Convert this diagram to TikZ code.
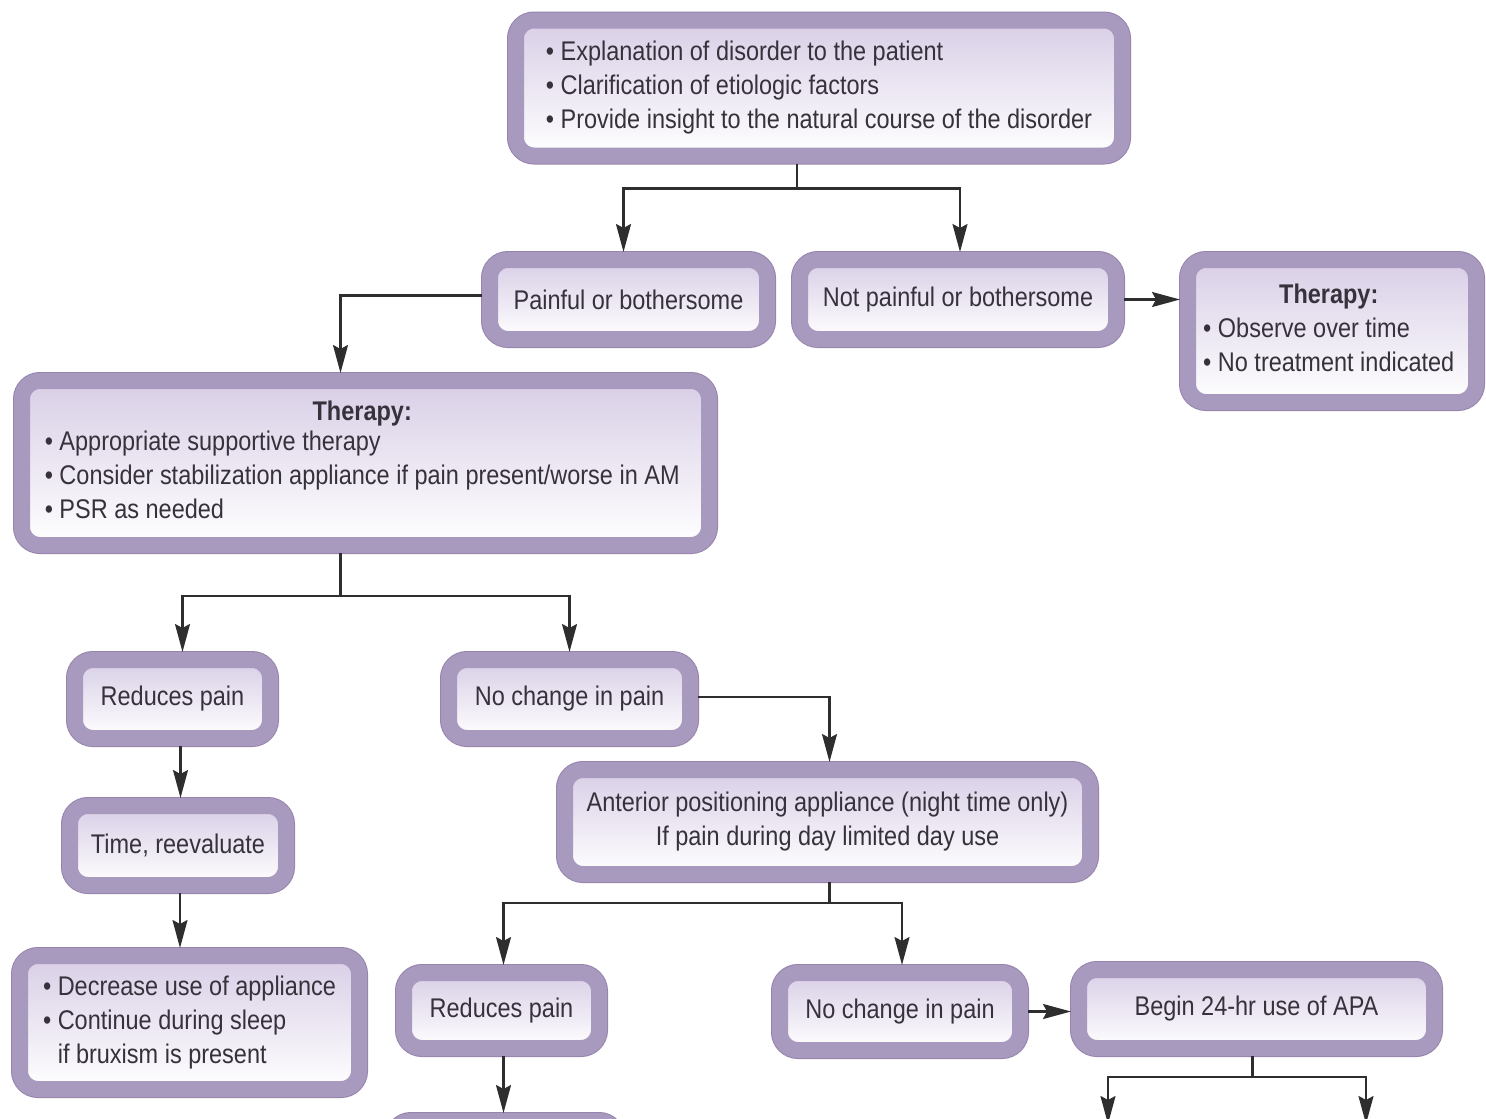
\documentclass[tikz,border=0pt]{standalone}
\usepackage{fontspec}
\setmainfont{Liberation Sans}[FakeStretch=0.87]
\usepackage{xcolor}
\usepackage{tikz}
\usetikzlibrary{arrows.meta, positioning, calc}
\definecolor{cadre}{HTML}{A899BE}
\definecolor{cadrefonce}{HTML}{9684AC}
\definecolor{fondhaut}{HTML}{D8CEE6}
\definecolor{texte}{HTML}{36313B}
\definecolor{trait}{HTML}{2E2E2E}
\tikzset{
  boite/.style={rectangle, rounded corners=18pt, draw=cadre, line width=16pt,
    preaction={draw=cadrefonce, line width=18pt},
    top color=fondhaut, bottom color=white, text=texte,
    font=\fontsize{27pt}{34pt}\selectfont, align=center, inner sep=0pt},
  liste/.style={boite, align=left},
  lien/.style={line width=2.2pt, color=trait},
  fleche/.style={lien, -{Stealth[length=28pt, width=15pt, inset=4pt]}}
}

\begin{document}
\begin{tikzpicture}[x=1pt, y=-1pt]
    \useasboundingbox (0,0) rectangle (1486,1119);
    \clip (0,0) rectangle (1486,1119);

    \node[liste, minimum width=606pt, minimum height=135pt] (explain) at (819,88) {
      • Explanation of disorder to the patient\\
      • Clarification of etiologic factors\\
      • Provide insight to the natural course of the disorder
    };

    \node[boite, minimum width=277pt, minimum height=79pt] (painful) at (628.5,299.5) {Painful or bothersome};
    \node[boite, minimum width=316pt, minimum height=79pt] (notpainful) at (958,299.5) {Not painful or bothersome};

    \node[boite, minimum width=288pt, minimum height=142pt] (observe) at (1332,331) {
      \begin{tabular}{@{}l@{}}
        \multicolumn{1}{@{}c@{}}{\textbf{Therapy:}}\\
        • Observe over time\\
        • No treatment indicated
      \end{tabular}
    };

    \node[boite, minimum width=687pt, minimum height=164pt] (therapy) at (365.5,463) {
      \begin{tabular}{@{}l@{}}
        \multicolumn{1}{@{}c@{}}{\textbf{Therapy:}}\\[-4pt]
        • Appropriate supportive therapy\\
        • Consider stabilization appliance if pain present/worse in AM\\
        • PSR as needed
      \end{tabular}
    };

    \node[boite, minimum width=195pt, minimum height=78pt] (reduces) at (172.5,699) {Reduces pain};
    \node[boite, minimum width=241pt, minimum height=78pt] (nochange) at (569.5,699) {No change in pain};

    \node[boite, minimum width=525pt, minimum height=104pt] (apa) at (827.5,822) {
      Anterior positioning appliance (night time only)\\
      If pain during day limited day use
    };

    \node[boite, minimum width=216pt, minimum height=79pt] (reeval) at (178,845.5) {Time, reevaluate};

    \node[liste, minimum width=339pt, minimum height=133pt] (decrease) at (189.5,1022.5) {
      • Decrease use of appliance\\
      • Continue during sleep\\
      \phantom{• }if bruxism is present
    };

    \node[boite, minimum width=195pt, minimum height=75pt] (reducesb) at (501.5,1010.5) {Reduces pain};
    \node[boite, minimum width=240pt, minimum height=77pt] (nochangeb) at (900,1011.5) {No change in pain};
    \node[boite, minimum width=355pt, minimum height=78pt] (beginapa) at (1256.5,1009) {Begin 24-hr use of APA};

    \node[boite, anchor=north, minimum width=224pt, minimum height=84pt] (nextbox) at (505,1113) {};

    \coordinate (sortie1) at (1108,1124);
    \coordinate (sortie2) at (1366,1124);

    \draw[lien] ([xshift=-22pt]explain.south) -- ++(0,25) coordinate (fourche1);
    \draw[fleche] (fourche1) -| ([xshift=-5pt]painful.north);
    \draw[fleche] (fourche1) -| ([xshift=2pt]notpainful.north);
    \draw[fleche] (notpainful.east) -- (notpainful.east -| observe.west);
    \draw[fleche] ([yshift=4pt]painful.west) -| ([xshift=-25pt]therapy.north);

    \draw[lien] ([xshift=-25pt]therapy.south) -- ++(0,43) coordinate (fourche2);
    \draw[fleche] (fourche2) -| ([xshift=10pt]reduces.north);
    \draw[fleche] (fourche2) -| (nochange.north);
    \draw[fleche] ([yshift=2pt]nochange.east) -| ([xshift=2pt]apa.north);

    \draw[fleche] ([xshift=8pt]reduces.south) -- ([xshift=8pt]reduces.south |- reeval.north);
    \draw[fleche] ([xshift=2pt]reeval.south) -- ([xshift=2pt]reeval.south |- decrease.north);

    \draw[lien] ([xshift=2pt]apa.south) -- ++(0,21) coordinate (fourche3);
    \draw[fleche] (fourche3) -| ([xshift=2pt]reducesb.north);
    \draw[fleche] (fourche3) -| ([xshift=2pt]nochangeb.north);
    \draw[fleche] (nochangeb.east) -- (nochangeb.east -| beginapa.west);

    \draw[lien] ([xshift=-4pt]beginapa.south) -- ++(0,21) coordinate (fourche4);
    \draw[fleche] (fourche4) -| (sortie1);
    \draw[fleche] (fourche4) -| (sortie2);
    \draw[fleche] ([xshift=2pt]reducesb.south) -- ([xshift=2pt]reducesb.south |- nextbox.north);
\end{tikzpicture}
\end{document}
